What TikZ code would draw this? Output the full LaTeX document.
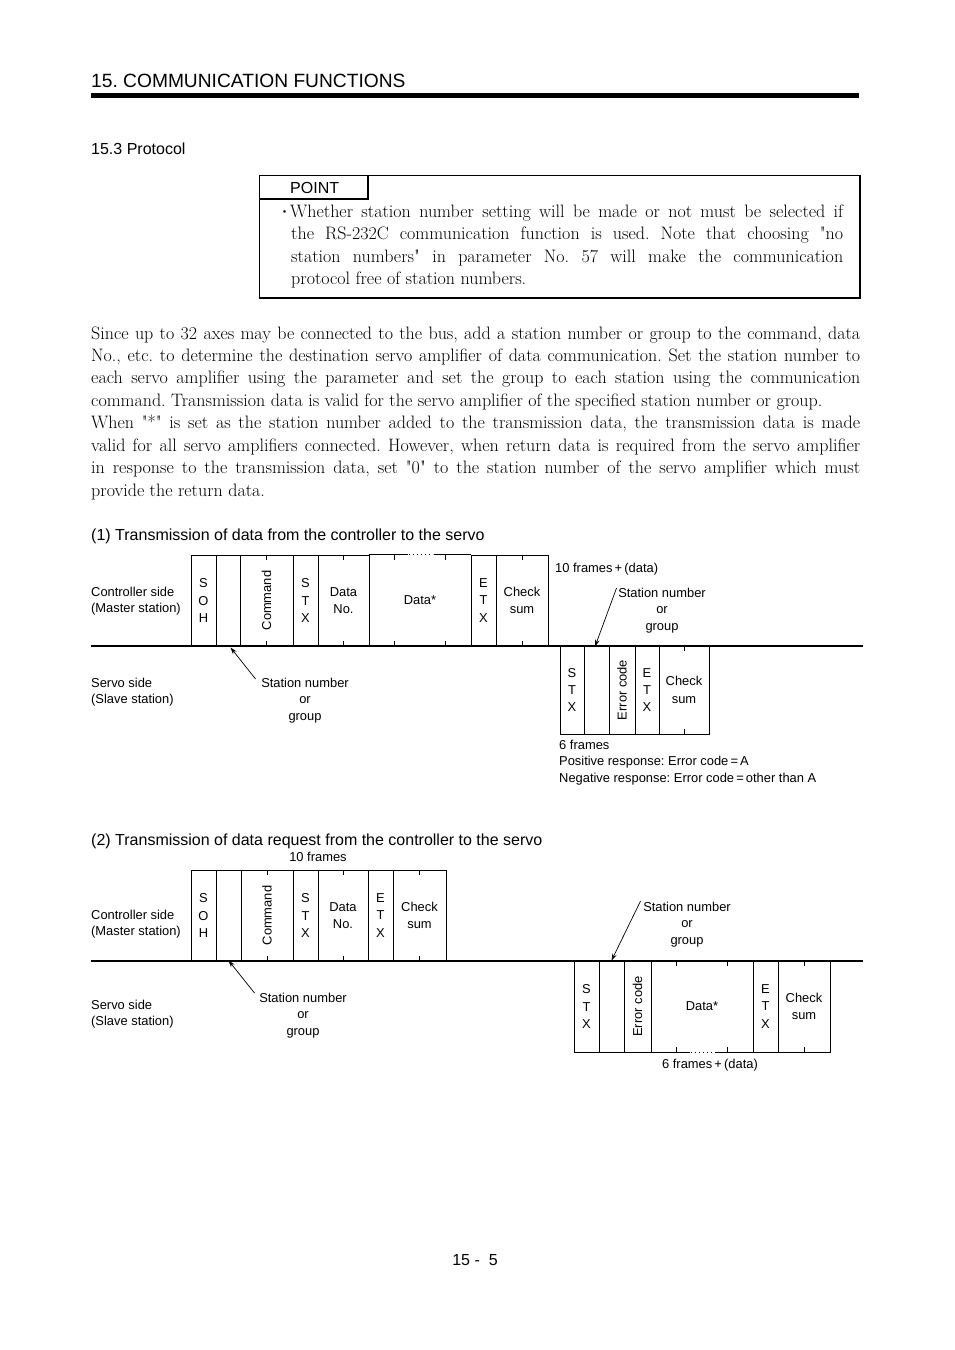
\documentclass[tikz,border=0pt]{standalone}
\usepackage{fontspec}
\newfontfamily\bodyfont{Latin Modern Roman}
\newfontfamily\arial{Liberation Sans}
\newfontfamily\cjk{Noto Sans CJK JP}
\usetikzlibrary{arrows.meta,calc}
\frenchspacing
\begin{document}
\frenchspacing
\begin{tikzpicture}[x=1pt,y=-1pt,
  cell/.style={draw, line width=0.9pt, inner sep=0pt, align=center,
    font=\arial\fontsize{12.9}{17.3}\selectfont},
  lbl/.style={inner sep=0pt, font=\arial\fontsize{12.9}{16.3}\selectfont},
  head/.style={inner sep=0pt, anchor=base west, font=\arial\fontsize{16}{18}\selectfont},
  body/.style={inner sep=0pt, anchor=base west, font=\bodyfont\fontsize{18}{22.4}\selectfont},
  ptr/.style={-{Stealth[length=7pt,width=4.5pt]}, line width=0.7pt},
  tick/.style={line width=0.9pt},
  busline/.style={line width=1.2pt},
  dotline/.style={line width=0.9pt, dash pattern=on 1.2pt off 2.8pt},
  boxline/.style={line width=1.4pt}]
\useasboundingbox[fill=white] (0,0) rectangle (954,1350);

% header
\node[inner sep=0pt, anchor=base west, font=\arial\fontsize{19.2}{22}\selectfont] (hdr) at (91,87) {15. COMMUNICATION FUNCTIONS};
\draw[line width=5pt] (91,95.5) -- (859,95.5);
\node[head] (sec) at (91,154.7) {15.3 Protocol};

% POINT box
\draw[boxline] (259.5,175.5) rectangle (860,298);
\draw[boxline] (259.5,175.5) rectangle (368,199);
\node[head] (pt) at (290,193.6) {POINT};
\node[inner sep=0pt, font=\cjk\fontsize{12}{12}\selectfont] (bul) at (284.5,213.5) {・};
\node[body] (q1) at (290,217) {\makebox[553pt][s]{Whether station number setting will be made or not must be selected if}};
\node[body] (q2) at (291,239.6) {\makebox[552pt][s]{the RS-232C communication function is used. Note that choosing "no}};
\node[body] (q3) at (291,262.2) {\makebox[552pt][s]{station numbers" in parameter No. 57 will make the communication}};
\node[body] (q4) at (291,284.8) {protocol free of station numbers.};

% paragraph
\node[body] (p1) at (91,339) {\makebox[769pt][s]{Since up to 32 axes may be connected to the bus, add a station number or group to the command, data}};
\node[body] (p2) at (91,361.4) {\makebox[769pt][s]{No., etc. to determine the destination servo amplifier of data communication. Set the station number to}};
\node[body] (p3) at (91,383.9) {\makebox[769pt][s]{each servo amplifier using the parameter and set the group to each station using the communication}};
\node[body] (p4) at (91,406.3) {command. Transmission data is valid for the servo amplifier of the specified station number or group.};
\node[body] (p5) at (91,428.7) {\makebox[769pt][s]{When "*" is set as the station number added to the transmission data, the transmission data is made}};
\node[body] (p6) at (91,451.1) {\makebox[769pt][s]{valid for all servo amplifiers connected. However, when return data is required from the servo amplifier}};
\node[body] (p7) at (91,473.6) {\makebox[769pt][s]{in response to the transmission data, set "0" to the station number of the servo amplifier which must}};
\node[body] (p8) at (91,496) {provide the return data.};

% ===== Diagram 1 =====
\node[head] (t1) at (91,540.7) {(1) Transmission of data from the controller to the servo};
\node[lbl, anchor=north west, align=left] (cs1lbl) at (91,587) {Controller side\\(Master station)};
\node[lbl, anchor=north west, align=left] (ss1lbl) at (91,678) {Servo side\\(Slave station)};

\node[cell, minimum width=25pt, minimum height=91pt] (soh1) at (203.5,600.5) {S\\O\\H};
\node[cell, minimum width=24pt, minimum height=91pt] (sn1) at (228,600.5) {};
\node[cell, minimum width=53pt, minimum height=91pt] (cmd1) at (266.5,600.5) {};
\node[lbl, rotate=90] (cmd1t) at (cmd1.center) {Command};
\node[cell, minimum width=25pt, minimum height=91pt] (stx1) at (305.5,600.5) {S\\T\\X};
\node[cell, minimum width=51pt, minimum height=91pt] (dno1) at (343.5,600.5) {Data\\No.};
\node[cell, draw=none, minimum width=102pt, minimum height=91pt] (dat1) at (420,600.5) {Data*};
\node[cell, minimum width=25pt, minimum height=91pt] (etx1) at (483.5,600.5) {E\\T\\X};
\node[cell, minimum width=52pt, minimum height=91pt] (cs1) at (522,600.5) {Check\\sum};
\draw[tick] (dat1.north west) -- ([xshift=39pt]dat1.north west);
\draw[dotline] ([xshift=40pt]dat1.north west) -- ([xshift=64pt]dat1.north west);
\draw[tick] ([xshift=65pt]dat1.north west) -- (dat1.north east);
\foreach \c in {cmd1,dno1,cs1}{
  \draw[tick] (\c.north) -- ++(0,5) (\c.south) -- ++(0,-5);}
\draw[tick] ($(dat1.north west)!0.25!(dat1.north east)$) -- ++(0,5)
            ($(dat1.north west)!0.75!(dat1.north east)$) -- ++(0,5)
            ($(dat1.south west)!0.25!(dat1.south east)$) -- ++(0,-5)
            ($(dat1.south west)!0.75!(dat1.south east)$) -- ++(0,-5);
\node[lbl, anchor=base west] (f1) at (555,572.5) {10 frames\,+\,(data)};

\draw[busline] (91,646) -- (863,646);

\node[cell, minimum width=24pt, minimum height=88pt] (stx1s) at (572,690) {S\\T\\X};
\node[cell, minimum width=25pt, minimum height=88pt] (sn1s) at (596.5,690) {};
\node[cell, minimum width=26pt, minimum height=88pt] (err1) at (622,690) {};
\node[lbl, rotate=90] (err1t) at (err1.center) {Error code};
\node[cell, minimum width=24pt, minimum height=88pt] (etx1s) at (647,690) {E\\T\\X};
\node[cell, minimum width=50pt, minimum height=88pt] (cs1s) at (684,690) {Check\\sum};
\draw[tick] (cs1s.north) -- ++(0,5) (cs1s.south) -- ++(0,-5);
\node[lbl, anchor=north west, align=left] (resp1) at (559,740) {6 frames\\Positive response: Error code\,=\,A\\Negative response: Error code\,=\,other than A};

\node[lbl, anchor=north, align=center] (sl1l) at (305,678) {Station number\\or\\group};
\node[lbl, anchor=north, align=center] (sl1r) at (662,588) {Station number\\or\\group};
\draw[ptr] ([xshift=-5.5pt,yshift=-1pt]sl1l.north west) -- ([xshift=2.5pt,yshift=-1pt]sn1.south);
\draw[ptr] ([xshift=-1.5pt]sl1r.north west) -- ([xshift=-1.5pt,yshift=-1pt]sn1s.north);

% ===== Diagram 2 =====
\node[head] (t2) at (91,845.7) {(2) Transmission of data request from the controller to the servo};
\node[lbl, anchor=base] (f2) at (318,861.5) {10 frames};
\node[lbl, anchor=north west, align=left] (cs2lbl) at (91,910) {Controller side\\(Master station)};
\node[lbl, anchor=north west, align=left] (ss2lbl) at (91,1000) {Servo side\\(Slave station)};

\node[cell, minimum width=25pt, minimum height=91pt] (soh2) at (203.5,915.5) {S\\O\\H};
\node[cell, minimum width=25pt, minimum height=91pt] (sn2) at (228.5,915.5) {};
\node[cell, minimum width=52pt, minimum height=91pt] (cmd2) at (267,915.5) {};
\node[lbl, rotate=90] (cmd2t) at (cmd2.center) {Command};
\node[cell, minimum width=25pt, minimum height=91pt] (stx2) at (305.5,915.5) {S\\T\\X};
\node[cell, minimum width=50pt, minimum height=91pt] (dno2) at (343,915.5) {Data\\No.};
\node[cell, minimum width=25pt, minimum height=91pt] (etx2) at (380.5,915.5) {E\\T\\X};
\node[cell, minimum width=53pt, minimum height=91pt] (cs2) at (419.5,915.5) {Check\\sum};
\foreach \c in {cmd2,dno2,cs2}{
  \draw[tick] (\c.north) -- ++(0,5) (\c.south) -- ++(0,-5);}

\draw[busline] (91,961) -- (863,961);

\node[cell, minimum width=25pt, minimum height=91pt] (stx2s) at (586.5,1006.5) {S\\T\\X};
\node[cell, minimum width=25pt, minimum height=91pt] (sn2s) at (611.5,1006.5) {};
\node[cell, minimum width=27pt, minimum height=91pt] (err2) at (637.5,1006.5) {};
\node[lbl, rotate=90] (err2t) at (err2.center) {Error code};
\node[cell, draw=none, minimum width=102pt, minimum height=91pt] (dat2) at (702,1006.5) {Data*};
\node[cell, minimum width=25pt, minimum height=91pt] (etx2s) at (765.5,1006.5) {E\\T\\X};
\node[cell, minimum width=52pt, minimum height=91pt] (cs2s) at (804,1006.5) {Check\\sum};
\draw[tick] (cs2s.north) -- ++(0,5) (cs2s.south) -- ++(0,-5);
\draw[tick] (dat2.south west) -- ([xshift=39pt]dat2.south west);
\draw[dotline] ([xshift=40pt]dat2.south west) -- ([xshift=63pt]dat2.south west);
\draw[tick] ([xshift=64pt]dat2.south west) -- (dat2.south east);
\draw[tick] ($(dat2.north west)!0.25!(dat2.north east)$) -- ++(0,5)
            ($(dat2.north west)!0.75!(dat2.north east)$) -- ++(0,5)
            ($(dat2.south west)!0.25!(dat2.south east)$) -- ++(0,-5)
            ($(dat2.south west)!0.75!(dat2.south east)$) -- ++(0,-5);
\node[lbl, anchor=base] (f2s) at (710,1068.5) {6 frames\,+\,(data)};

\node[lbl, anchor=north, align=center] (sl2l) at (303,993) {Station number\\or\\group};
\node[lbl, anchor=north, align=center] (sl2r) at (687,902) {Station number\\or\\group};
\draw[ptr] ([xshift=-4.5pt]sl2l.north west) -- ([yshift=1pt]sn2.south);
\draw[ptr] ([xshift=-2.5pt,yshift=1pt]sl2r.north west) -- (sn2s.north);

% page number
\node[inner sep=0pt, anchor=base, font=\arial\fontsize{16}{18}\selectfont] (pg) at (475,1265.7) {15 -\ \ 5};
\end{tikzpicture}
\end{document}
